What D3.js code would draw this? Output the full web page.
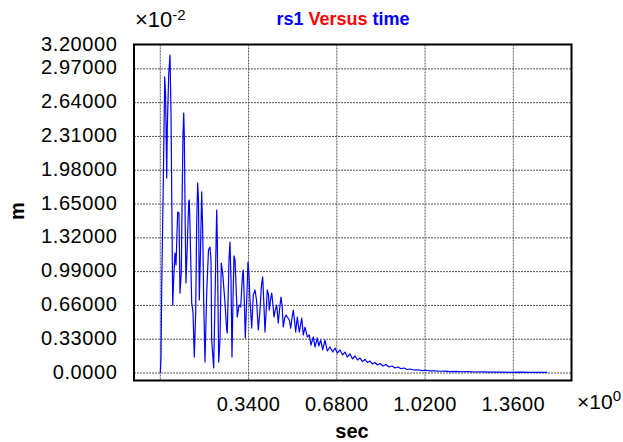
<!DOCTYPE html>
<html>
<head>
<meta charset="utf-8">
<script src="https://cdn.jsdelivr.net/npm/d3@7"></script>
<style>
  body { margin: 0; background: #fff; }
  text { font-family: "Liberation Sans", Arial, sans-serif; }
</style>
</head>
<body>
<div id="chart"></div>
<script>
// rs1 (x10^-2 m) against time (sec)
var timeVals = [0, 0.0027, 0.0054, 0.0116, 0.0170, 0.0204, 0.0231, 0.0247, 0.0270, 0.0324,
  0.0374, 0.0412, 0.0451, 0.0478, 0.0528, 0.0566, 0.0605, 0.0670, 0.0720, 0.0759,
  0.0809, 0.0836, 0.0875, 0.0902, 0.0925, 0.0963, 0.0990, 0.1040, 0.1094, 0.1117,
  0.1144, 0.1210, 0.1260, 0.1310, 0.1364, 0.1402, 0.1441, 0.1472, 0.1503, 0.1549,
  0.1595, 0.1634, 0.1672, 0.1722, 0.1788, 0.1857, 0.1915, 0.1953, 0.1980, 0.2057,
  0.2107, 0.2173, 0.2196, 0.2250, 0.2300, 0.2350, 0.2404, 0.2493, 0.2558, 0.2581,
  0.2647, 0.2685, 0.2724, 0.2762, 0.2801, 0.2839, 0.2878, 0.2967, 0.3032, 0.3098,
  0.3167, 0.3198, 0.3236, 0.3275, 0.3329, 0.3379, 0.3417, 0.3456, 0.3521, 0.3583,
  0.3649, 0.3706, 0.3776, 0.3841, 0.3899, 0.3945, 0.3984, 0.4034, 0.4092, 0.4122,
  0.4169, 0.4199, 0.4246, 0.4292, 0.4342, 0.4381, 0.4431, 0.4485, 0.4546, 0.4592,
  0.4650, 0.4689, 0.4739, 0.4793, 0.4843, 0.4920, 0.4970, 0.5024, 0.5074, 0.5124,
  0.5170, 0.5217, 0.5278, 0.5355, 0.5448, 0.5509, 0.5575, 0.5663, 0.5741, 0.5806,
  0.5895, 0.5960, 0.6049, 0.6103, 0.6180, 0.6257, 0.6345, 0.6434, 0.6538, 0.6642,
  0.6731, 0.6819, 0.6923, 0.7027, 0.7116, 0.7205, 0.7309, 0.7405, 0.7501, 0.7597,
  0.7694, 0.7790, 0.7886, 0.7983, 0.8079, 0.8175, 0.8272, 0.8368, 0.8464, 0.8580,
  0.8696, 0.8811, 0.8927, 0.9043, 0.9158, 0.9274, 0.9389, 0.9505, 0.9620, 0.9774,
  0.9928, 1.0083, 1.0237, 1.0391, 1.0584, 1.0776, 1.0969, 1.1161, 1.1392, 1.1624,
  1.1855, 1.2124, 1.2394, 1.2702, 1.3087, 1.3473, 1.3858, 1.4243, 1.4628, 1.4910];

var rs1Vals = [0, 0.146, 0.830, 1.865, 2.891, 2.715, 2.227, 1.904, 2.393, 2.910,
  3.105, 2.549, 1.475, 0.664, 0.986, 1.172, 1.055, 1.572, 1.563, 0.781,
  0.986, 1.611, 2.324, 2.539, 2.324, 1.377, 0.879, 1.250, 1.670, 1.689,
  1.445, 0.684, 0.596, 0.156, 0.596, 1.475, 1.855, 1.689, 0.713, 1.201,
  1.768, 1.396, 0.713, 0.107, 0.781, 1.201, 1.230, 1.104, 0.322, 0.049,
  0.713, 1.592, 1.299, 0.107, 0.322, 1.074, 0.977, 0.684, 0.420, 0.391,
  1.104, 1.279, 0.908, 0.156, 0.713, 1.143, 1.104, 0.547, 0.664, 0.645,
  0.957, 1.006, 0.713, 0.342, 0.713, 1.084, 0.957, 0.713, 0.439, 0.762,
  0.811, 0.713, 0.420, 0.615, 0.859, 0.938, 0.713, 0.400, 0.664, 0.811,
  0.762, 0.615, 0.713, 0.781, 0.664, 0.547, 0.615, 0.664, 0.488, 0.615,
  0.742, 0.664, 0.449, 0.537, 0.566, 0.537, 0.518, 0.439, 0.537, 0.615,
  0.518, 0.400, 0.547, 0.400, 0.537, 0.371, 0.449, 0.352, 0.371, 0.273,
  0.352, 0.254, 0.342, 0.264, 0.322, 0.225, 0.322, 0.215, 0.254, 0.205,
  0.244, 0.195, 0.225, 0.176, 0.205, 0.156, 0.186, 0.137, 0.166, 0.127,
  0.146, 0.112, 0.132, 0.103, 0.117, 0.088, 0.103, 0.078, 0.093, 0.068,
  0.083, 0.059, 0.068, 0.049, 0.059, 0.042, 0.049, 0.034, 0.039, 0.029,
  0.032, 0.024, 0.027, 0.020, 0.021, 0.017, 0.018, 0.014, 0.015, 0.012,
  0.013, 0.010, 0.011, 0.008, 0.009, 0.007, 0.008, 0.006, 0.007, 0.006];

var xTicks = [0, 0.34, 0.68, 1.02, 1.36];
var xTickLabels = ["", "0.3400", "0.6800", "1.0200", "1.3600"];
var yTicks = [0, 0.33, 0.66, 0.99, 1.32, 1.65, 1.98, 2.31, 2.64, 2.97, 3.2];
var yTickLabels = ["0.0000", "0.33000", "0.66000", "0.99000", "1.32000", "1.65000",
  "1.98000", "2.31000", "2.64000", "2.97000", "3.20000"];

var W = 623, H = 442;
var box = { left: 134, right: 571.5, top: 44.5, bottom: 380.5 };

var svg = d3.select("#chart")
  .append("svg")
  .attr("width", W)
  .attr("height", H);

//SCALES
var x = d3.scaleLinear().domain([-0.1013, 1.5842]).range([box.left, box.right]);
var y = d3.scaleLinear().domain([-0.0732, 3.208]).range([box.bottom, box.top]);

//GRID
svg.selectAll(".vgrid")
  .data(xTicks)
  .enter().append("line")
  .attr("class", "vgrid")
  .attr("x1", function(d) { return x(d); })
  .attr("x2", function(d) { return x(d); })
  .attr("y1", box.top)
  .attr("y2", box.bottom)
  .attr("stroke", "#555")
  .attr("stroke-width", 1)
  .attr("stroke-dasharray", "2,1");

svg.selectAll(".hgrid")
  .data(yTicks.slice(0, -1))
  .enter().append("line")
  .attr("class", "hgrid")
  .attr("x1", box.left)
  .attr("x2", box.right)
  .attr("y1", function(d) { return y(d); })
  .attr("y2", function(d) { return y(d); })
  .attr("stroke", "#555")
  .attr("stroke-width", 1)
  .attr("stroke-dasharray", "2,1");

//LINE
var pts = timeVals.map(function(t, i) { return [t, rs1Vals[i]]; });
var line = d3.line()
  .x(function(d) { return x(d[0]); })
  .y(function(d) { return y(d[1]); });

svg.append("path")
  .datum(pts)
  .attr("d", line)
  .attr("fill", "none")
  .attr("stroke", "#0000ff")
  .attr("stroke-width", 1.2)
  .attr("stroke-linejoin", "round");

//FRAME
svg.append("rect")
  .attr("x", box.left)
  .attr("y", box.top)
  .attr("width", box.right - box.left)
  .attr("height", box.bottom - box.top)
  .attr("fill", "none")
  .attr("stroke", "#000")
  .attr("stroke-width", 2);

//TICK LABELS
svg.selectAll(".ylab")
  .data(yTicks)
  .enter().append("text")
  .attr("class", "ylab")
  .attr("x", 117.5)
  .attr("y", function(d) { return y(d) + 5.5; })
  .attr("text-anchor", "end")
  .style("font-size", "20px")
  .style("letter-spacing", "0.6px")
  .text(function(d, i) { return yTickLabels[i]; });

svg.selectAll(".xlab")
  .data(xTicks)
  .enter().append("text")
  .attr("class", "xlab")
  .attr("x", function(d) { return x(d); })
  .attr("y", 410.5)
  .attr("text-anchor", "middle")
  .style("font-size", "20px")
  .style("letter-spacing", "0.4px")
  .text(function(d, i) { return xTickLabels[i]; });

//EXPONENTS
var ey = svg.append("text").attr("x", 135).attr("y", 27).style("font-size", "22px");
ey.append("tspan").text("\u00d710");
ey.append("tspan").attr("dy", -7).style("font-size", "15px").text("-2");

var ex = svg.append("text").attr("x", 577).attr("y", 409).style("font-size", "21px");
ex.append("tspan").text("\u00d710");
ex.append("tspan").attr("dy", -8).style("font-size", "15px").text("0");

//TITLE
var title = svg.append("text")
  .attr("x", 343)
  .attr("y", 25)
  .attr("text-anchor", "middle")
  .style("font-size", "18px")
  .style("font-weight", "bold");
title.append("tspan").attr("fill", "#0000ff").text("rs1 ");
title.append("tspan").attr("fill", "#ff0000").text("Versus ");
title.append("tspan").attr("fill", "#0000ff").text("time");

//AXIS TITLES
svg.append("text")
  .attr("x", 352)
  .attr("y", 438)
  .attr("text-anchor", "middle")
  .style("font-size", "20px")
  .style("font-weight", "bold")
  .text("sec");

svg.append("text")
  .attr("transform", "translate(24," + 211 + ") rotate(-90)")
  .attr("text-anchor", "middle")
  .style("font-size", "20px")
  .style("font-weight", "bold")
  .text("m");
</script>
</body>
</html>
